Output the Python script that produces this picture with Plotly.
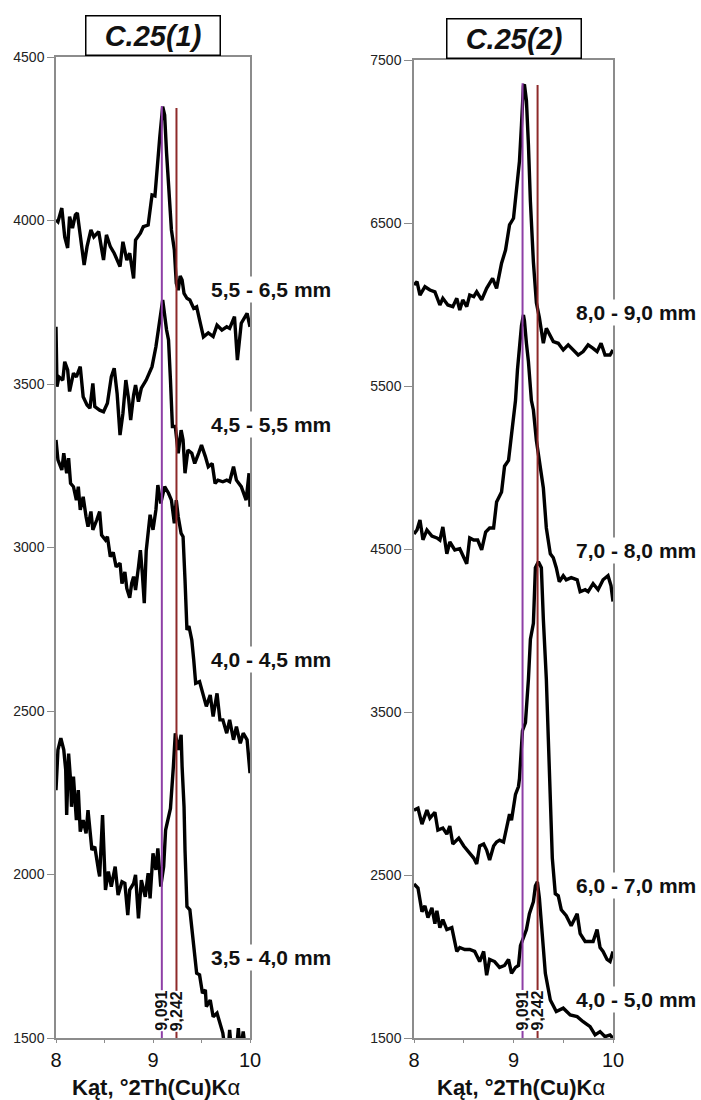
import plotly.graph_objects as go

# ---------------- data ----------------
left_ticks = [1500, 2000, 2500, 3000, 3500, 4000, 4500]
right_ticks = [1500, 2500, 3500, 4500, 5500, 6500, 7500]
x_ticks = [8, 8.5, 9, 9.5, 10]
x_ticktext = ["8", "", "9", "", "10"]

peak_lines = [9.091, 9.242]
peak_labels = ["9,091", "9,242"]
peak_colors = ["#8e3fa6", "#8e2a2a"]
left_line_tops = [4350, 4344]
right_line_tops = [7358, 7347]

panel_titles = ["C.25(1)", "C.25(2)"]
x_title = "Kąt, °2Th(Cu)K<span style='font-weight:normal'>α</span>"

left_labels = ["5,5 - 6,5 mm", "4,5 - 5,5 mm", "4,0 - 4,5 mm", "3,5 - 4,0 mm"]
left_label_y = [3790, 3375, 2659, 1745]
right_labels = ["8,0 - 9,0 mm", "7,0 - 8,0 mm", "6,0 - 7,0 mm", "4,0 - 5,0 mm"]
right_label_y = [5954, 4488, 2433, 1739]

c1_55_65 = [(8.00, 4002), (8.02, 3996), (8.06, 4038), (8.09, 3950), (8.12, 3916), (8.14, 4012),
            (8.17, 3977), (8.20, 4017), (8.22, 4023), (8.25, 3950), (8.29, 3864), (8.32, 3920),
            (8.36, 3971), (8.39, 3950), (8.44, 3966), (8.49, 3879), (8.52, 3956), (8.56, 3920),
            (8.60, 3900), (8.66, 3859), (8.69, 3935), (8.73, 3879), (8.76, 3900), (8.80, 3823),
            (8.82, 3940), (8.87, 3961), (8.90, 3981), (8.95, 3986), (8.99, 4078), (9.02, 4075),
            (9.04, 4154), (9.07, 4256), (9.10, 4348), (9.12, 4323), (9.14, 4206), (9.17, 4063),
            (9.19, 3971), (9.22, 3910), (9.24, 3808), (9.26, 3787), (9.28, 3830), (9.30, 3818),
            (9.32, 3777), (9.35, 3762), (9.38, 3757), (9.42, 3731), (9.45, 3736), (9.48, 3696),
            (9.52, 3644), (9.57, 3656), (9.62, 3645), (9.66, 3680), (9.71, 3665), (9.76, 3675),
            (9.79, 3670), (9.84, 3706), (9.87, 3573), (9.91, 3686), (9.97, 3716), (10.00, 3675)]

c1_45_55 = [(8.00, 3675), (8.01, 3492), (8.03, 3522), (8.07, 3512), (8.09, 3568), (8.12, 3543),
            (8.14, 3477), (8.18, 3533), (8.21, 3522), (8.25, 3553), (8.28, 3461), (8.32, 3436),
            (8.35, 3426), (8.38, 3502), (8.40, 3431), (8.45, 3420), (8.49, 3415), (8.53, 3441),
            (8.57, 3522), (8.60, 3548), (8.63, 3471), (8.66, 3344), (8.69, 3410), (8.72, 3512),
            (8.75, 3451), (8.77, 3390), (8.80, 3466), (8.82, 3497), (8.85, 3446), (8.88, 3487),
            (8.93, 3512), (8.99, 3553), (9.03, 3614), (9.05, 3655), (9.07, 3700), (9.10, 3757),
            (9.14, 3665), (9.16, 3635), (9.18, 3512), (9.20, 3370), (9.23, 3370), (9.26, 3288),
            (9.29, 3359), (9.31, 3329), (9.33, 3227), (9.36, 3298), (9.40, 3288), (9.43, 3257),
            (9.47, 3288), (9.50, 3313), (9.54, 3278), (9.57, 3247), (9.61, 3257), (9.64, 3196),
            (9.67, 3206), (9.72, 3201), (9.76, 3206), (9.79, 3201), (9.83, 3247), (9.86, 3206),
            (9.91, 3186), (9.96, 3145), (9.99, 3227), (10.00, 3125)]

c1_40_45 = [(8.00, 3329), (8.02, 3268), (8.06, 3237), (8.08, 3288), (8.11, 3227), (8.13, 3273),
            (8.15, 3196), (8.18, 3186), (8.21, 3145), (8.23, 3186), (8.25, 3115), (8.28, 3155),
            (8.31, 3094), (8.33, 3064), (8.36, 3110), (8.38, 3054), (8.42, 3084), (8.45, 3110),
            (8.47, 3038), (8.51, 3023), (8.53, 3033), (8.56, 2972), (8.59, 2985), (8.62, 2941),
            (8.66, 2952), (8.68, 2890), (8.71, 2925), (8.73, 2875), (8.76, 2846), (8.78, 2890),
            (8.80, 2911), (8.82, 2870), (8.85, 2940), (8.87, 2992), (8.89, 2920), (8.91, 2830),
            (8.93, 2990), (8.95, 3050), (8.97, 3100), (9.00, 3054), (9.03, 3115), (9.05, 3191),
            (9.08, 3135), (9.12, 3186), (9.16, 3166), (9.19, 3145), (9.22, 3074), (9.24, 3145),
            (9.26, 3094), (9.29, 3043), (9.31, 3033), (9.33, 2901), (9.35, 2748), (9.37, 2760),
            (9.40, 2717), (9.42, 2656), (9.44, 2585), (9.48, 2590), (9.51, 2554), (9.55, 2514),
            (9.59, 2549), (9.62, 2483), (9.66, 2554), (9.69, 2473), (9.72, 2473), (9.76, 2432),
            (9.79, 2473), (9.83, 2412), (9.86, 2452), (9.90, 2401), (9.93, 2432), (9.97, 2412),
            (10.00, 2310)]

c1_35_40 = [(8.00, 2258), (8.02, 2381), (8.05, 2417), (8.08, 2381), (8.10, 2320), (8.11, 2182),
            (8.13, 2370), (8.15, 2289), (8.16, 2207), (8.18, 2299), (8.21, 2166), (8.23, 2258),
            (8.25, 2131), (8.28, 2166), (8.31, 2126), (8.33, 2197), (8.37, 2075), (8.40, 2085),
            (8.44, 2009), (8.45, 1994), (8.48, 2182), (8.51, 1953), (8.54, 2009), (8.57, 1963),
            (8.61, 2024), (8.64, 1937), (8.68, 1978), (8.71, 1973), (8.74, 1876), (8.76, 1953),
            (8.80, 1973), (8.82, 1999), (8.85, 1866), (8.88, 1983), (8.92, 1932), (8.95, 2004),
            (8.97, 1927), (9.00, 2065), (9.03, 2014), (9.05, 2080), (9.08, 1963), (9.11, 2024),
            (9.13, 2136), (9.16, 2172), (9.18, 2202), (9.21, 2330), (9.23, 2432), (9.26, 2381),
            (9.29, 2427), (9.30, 2330), (9.32, 2207), (9.33, 2075), (9.35, 1902), (9.38, 1892),
            (9.40, 1841), (9.42, 1769), (9.45, 1698), (9.48, 1693), (9.51, 1637), (9.54, 1647),
            (9.55, 1596), (9.59, 1616), (9.62, 1565), (9.66, 1576), (9.69, 1545), (9.72, 1515),
            (9.74, 1470), (9.77, 1440), (9.79, 1525), (9.81, 1455), (9.86, 1460), (9.88, 1530),
            (9.90, 1455), (9.93, 1520), (9.95, 1470), (9.98, 1490), (10.00, 1470)]

c2_80_90 = [(8.00, 6120), (8.03, 6140), (8.06, 6058), (8.11, 6109), (8.16, 6089), (8.21, 6078),
            (8.26, 5997), (8.29, 6038), (8.34, 5997), (8.39, 5987), (8.43, 6038), (8.46, 5966),
            (8.49, 6028), (8.53, 5987), (8.56, 6058), (8.60, 6048), (8.63, 6078), (8.68, 6028),
            (8.73, 6099), (8.79, 6160), (8.83, 6099), (8.88, 6253), (8.92, 6334), (8.96, 6488),
            (9.00, 6529), (9.03, 6700), (9.06, 6880), (9.08, 7100), (9.10, 7340), (9.11, 7350),
            (9.13, 7250), (9.15, 6980), (9.17, 6630), (9.20, 6260), (9.23, 6010), (9.26, 5920),
            (9.30, 5762), (9.33, 5854), (9.37, 5803), (9.40, 5772), (9.45, 5762), (9.50, 5721),
            (9.55, 5752), (9.60, 5721), (9.65, 5690), (9.70, 5711), (9.75, 5752), (9.80, 5731),
            (9.84, 5711), (9.88, 5762), (9.92, 5690), (9.97, 5690), (10.00, 5721)]

c2_70_80 = [(8.00, 4592), (8.03, 4617), (8.06, 4678), (8.09, 4556), (8.13, 4617), (8.18, 4580),
            (8.23, 4568), (8.26, 4555), (8.29, 4635), (8.33, 4471), (8.36, 4543), (8.41, 4494),
            (8.46, 4502), (8.50, 4446), (8.53, 4409), (8.56, 4568), (8.60, 4555), (8.64, 4555),
            (8.68, 4495), (8.72, 4604), (8.76, 4629), (8.80, 4629), (8.83, 4788), (8.88, 4850),
            (8.91, 5008), (8.95, 5044), (8.98, 5215), (9.02, 5411), (9.04, 5600), (9.06, 5762),
            (9.08, 5870), (9.10, 5936), (9.11, 5900), (9.13, 5762), (9.15, 5650), (9.18, 5411),
            (9.20, 5353), (9.23, 5166), (9.26, 5050), (9.30, 4874), (9.33, 4629), (9.37, 4470),
            (9.40, 4446), (9.43, 4385), (9.46, 4299), (9.50, 4336), (9.53, 4311), (9.58, 4324),
            (9.64, 4311), (9.67, 4238), (9.72, 4250), (9.75, 4238), (9.80, 4287), (9.85, 4250),
            (9.90, 4311), (9.95, 4336), (9.98, 4275), (10.00, 4178)]

c2_60_70 = [(8.00, 2898), (8.04, 2910), (8.08, 2812), (8.13, 2898), (8.16, 2849), (8.21, 2885),
            (8.24, 2775), (8.29, 2788), (8.33, 2751), (8.36, 2800), (8.39, 2690), (8.45, 2726),
            (8.50, 2678), (8.55, 2641), (8.60, 2604), (8.63, 2567), (8.66, 2678), (8.70, 2690),
            (8.73, 2653), (8.76, 2592), (8.80, 2678), (8.83, 2702), (8.86, 2714), (8.90, 2702),
            (8.93, 2788), (8.96, 2873), (8.98, 2836), (9.02, 2995), (9.05, 3043), (9.06, 3092),
            (9.09, 3385), (9.12, 3434), (9.15, 3702), (9.17, 3946), (9.20, 4044), (9.22, 4385),
            (9.25, 4422), (9.28, 4385), (9.30, 4068), (9.33, 3702), (9.35, 3336), (9.37, 2970),
            (9.39, 2604), (9.42, 2385), (9.45, 2372), (9.48, 2287), (9.53, 2250), (9.58, 2189),
            (9.64, 2262), (9.67, 2140), (9.72, 2092), (9.77, 2092), (9.80, 2092), (9.84, 2165),
            (9.87, 2055), (9.90, 2031), (9.94, 1982), (9.97, 1969), (10.00, 2031)]

c2_40_50 = [(8.00, 2445), (8.04, 2420), (8.08, 2274), (8.11, 2311), (8.14, 2238), (8.18, 2299),
            (8.21, 2201), (8.23, 2280), (8.26, 2177), (8.29, 2226), (8.33, 2165), (8.38, 2177),
            (8.43, 2031), (8.46, 2055), (8.51, 2043), (8.56, 2043), (8.61, 2031), (8.66, 1969),
            (8.70, 2031), (8.73, 1885), (8.76, 1982), (8.81, 1969), (8.86, 1933), (8.91, 1945),
            (8.95, 1982), (8.98, 1897), (9.02, 1933), (9.05, 1945), (9.07, 2067), (9.10, 2116),
            (9.13, 2165), (9.16, 2262), (9.20, 2336), (9.22, 2433), (9.24, 2458), (9.26, 2360),
            (9.29, 2116), (9.32, 1897), (9.35, 1799), (9.37, 1733), (9.43, 1662), (9.50, 1683),
            (9.57, 1641), (9.64, 1631), (9.70, 1600), (9.77, 1570), (9.82, 1519), (9.87, 1539),
            (9.92, 1508), (9.97, 1519), (10.00, 1498)]

left_curves = [c1_55_65, c1_45_55, c1_40_45, c1_35_40]
right_curves = [c2_80_90, c2_70_80, c2_60_70, c2_40_50]

# ---------------- figure ----------------
W, H = 701, 1100
FONT = "Arial, Liberation Sans, sans-serif"


def fx(p):
    return p / W


def fy(p):
    return 1 - p / H


fig = go.Figure()

for curve in left_curves:
    xs, ys = zip(*curve)
    fig.add_trace(go.Scatter(x=xs, y=ys, mode="lines", xaxis="x", yaxis="y",
                             line=dict(color="black", width=3.4), showlegend=False))
for curve in right_curves:
    xs, ys = zip(*curve)
    fig.add_trace(go.Scatter(x=xs, y=ys, mode="lines", xaxis="x2", yaxis="y2",
                             line=dict(color="black", width=3.4), showlegend=False))

shapes = []
annotations = []
for i, xv in enumerate(peak_lines):
    shapes.append(dict(type="line", xref="x", yref="y", x0=xv, x1=xv, y0=1500, y1=left_line_tops[i],
                       line=dict(color=peak_colors[i], width=2)))
    shapes.append(dict(type="line", xref="x2", yref="y2", x0=xv, x1=xv, y0=1500, y1=right_line_tops[i],
                       line=dict(color=peak_colors[i], width=2)))
    annotations.append(dict(xref="x", yref="y", x=xv, y=1583, text="<b>%s</b>" % peak_labels[i],
                            textangle=-90, showarrow=False, xanchor="center", yanchor="middle",
                            bgcolor="white", borderpad=0, height=14,
                            font=dict(family=FONT, size=16, color="#111")))
    annotations.append(dict(xref="x2", yref="y2", x=xv, y=1666, text="<b>%s</b>" % peak_labels[i],
                            textangle=-90, showarrow=False, xanchor="center", yanchor="middle",
                            bgcolor="white", borderpad=0, height=14,
                            font=dict(family=FONT, size=16, color="#111")))

for t, yv in zip(left_labels, left_label_y):
    annotations.append(dict(xref="paper", yref="y", x=fx(271), y=yv, text="<b>%s</b>" % t, showarrow=False,
                            xanchor="center", yanchor="middle", bgcolor="white", borderpad=1,
                            font=dict(family=FONT, size=21, color="#111")))
for t, yv in zip(right_labels, right_label_y):
    annotations.append(dict(xref="paper", yref="y2", x=fx(636), y=yv, text="<b>%s</b>" % t, showarrow=False,
                            xanchor="center", yanchor="middle", bgcolor="white", borderpad=1,
                            font=dict(family=FONT, size=21, color="#111")))

# panel titles (boxed)
for t, cx, cy in zip(panel_titles, [153, 514], [35.5, 38.5]):
    annotations.append(dict(xref="paper", yref="paper", x=fx(cx), y=fy(cy), text="<b><i>%s</i></b>" % t,
                            showarrow=False, xanchor="center", yanchor="middle", bgcolor="white",
                            bordercolor="black", borderwidth=1.5, borderpad=0, width=133, height=38,
                            font=dict(family=FONT, size=29, color="#111")))

# x axis titles
for cx in [156, 521]:
    annotations.append(dict(xref="paper", yref="paper", x=fx(cx), y=fy(1087), text="<b>%s</b>" % x_title,
                            showarrow=False, xanchor="center", yanchor="middle",
                            font=dict(family=FONT, size=22, color="#111")))

axis_common = dict(showgrid=False, zeroline=False, showline=True, linecolor="#8c8c8c", linewidth=1.5,
                   mirror=True, ticks="outside", tickcolor="#8c8c8c", automargin=False)

fig.update_layout(
    width=W, height=H, margin=dict(l=0, r=0, t=0, b=0, pad=0, autoexpand=False),
    paper_bgcolor="white", plot_bgcolor="white", showlegend=False,
    xaxis=dict(domain=[fx(56), fx(250)], range=[8, 10], anchor="y", tickvals=x_ticks, ticktext=x_ticktext,
               ticklen=3, tickfont=dict(family=FONT, size=20, color="#111"), **axis_common),
    yaxis=dict(domain=[fy(1038), fy(57)], range=[1500, 4500], anchor="x", tickvals=left_ticks,
               ticklen=7, tickfont=dict(family=FONT, size=14, color="#222"), **axis_common),
    xaxis2=dict(domain=[fx(414), fx(613)], range=[8, 10], anchor="y2", tickvals=x_ticks, ticktext=x_ticktext,
                ticklen=3, tickfont=dict(family=FONT, size=20, color="#111"), **axis_common),
    yaxis2=dict(domain=[fy(1038), fy(60)], range=[1500, 7500], anchor="x2", tickvals=right_ticks,
                ticklen=8, tickfont=dict(family=FONT, size=14, color="#222"), **axis_common),
    shapes=shapes,
    annotations=annotations,
)

fig.write_html("out.html", config={"displayModeBar": False},
               post_script="document.body.style.margin='0';document.body.style.overflow='hidden';")
